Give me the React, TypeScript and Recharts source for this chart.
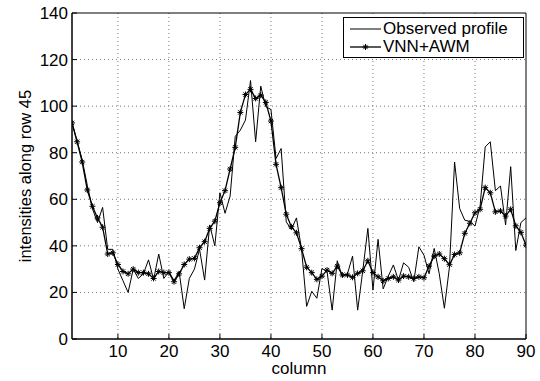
import {
  LineChart, Line, XAxis, YAxis, CartesianGrid, Legend, ReferenceArea,
} from 'recharts';

// column index 1..90
const columns = Array.from({ length: 90 }, (_, i) => i + 1);

const observed = [
  93, 85, 77, 66, 56, 50, 56.5, 38.5, 38.5, 30,
  25, 20, 30, 26, 28, 34, 25.5, 36.5, 26, 29,
  25, 29, 13, 26, 30, 38.6, 25.3, 49, 40, 62.8,
  54, 61.4, 87, 89.7, 94, 111, 84.7, 108.6, 99.7, 98.6,
  77.5, 81.8, 50.3, 47, 52, 38.6, 14, 20.5, 17.5, 30.3,
  29, 12.4, 33.6, 26.7, 28, 35.6, 12.4, 29.3, 47.5, 21,
  42.8, 21.5, 27, 31.8, 25.3, 32.7, 30.8, 24.6, 39.6, 36,
  28, 38.9, 28, 13.2, 31, 76, 56, 51, 50.5, 48.5,
  57, 82.5, 84.7, 63.7, 65.7, 49, 74, 38, 50, 52,
];

const vnnAwm = [
  92.8, 84.7, 76, 64, 57, 52, 48, 36.5, 37, 32,
  29, 28, 30, 28.5, 28.5, 28, 26, 29, 28.5, 28.5,
  24.6, 28, 32, 34.3, 34.6, 39.2, 41.8, 47.5, 50.6, 58.5,
  63.7, 73, 82.3, 97.3, 105, 107.2, 103.3, 104.7, 101.6, 93.6,
  75, 65, 53.6, 48.2, 45.6, 38.8, 30.8, 28.5, 25.6, 27,
  29.6, 28.2, 31.3, 27.5, 27.5, 26.5, 28.2, 29.3, 33.6, 28.5,
  26.7, 25, 26, 26.7, 25.3, 27, 26.7, 26, 26.7, 26.3,
  31.3, 35.6, 36.5, 34.5, 31.9, 36.3, 37, 45.4, 49.7, 54.2,
  55.7, 65, 62.8, 54.6, 55, 52.8, 55.7, 48.6, 45.8, 40.3,
];

const xTicks = [10, 20, 30, 40, 50, 60, 70, 80, 90];
const yTicks = [0, 20, 40, 60, 80, 100, 120, 140];

const data = columns.map((c, i) => ({ col: c, observed: observed[i], vnn: vnnAwm[i] }));

const FONT = 'Liberation Sans, Arial, Helvetica, sans-serif';
const FS = 17;

function Star({ cx, cy }: { cx?: number; cy?: number }) {
  if (cx == null || cy == null) return null;
  const r = 3;
  const d = r * 0.72;
  return (
    <g stroke="#000" strokeWidth={1}>
      <line x1={cx - r} y1={cy} x2={cx + r} y2={cy} />
      <line x1={cx} y1={cy - r} x2={cx} y2={cy + r} />
      <line x1={cx - d} y1={cy - d} x2={cx + d} y2={cy + d} />
      <line x1={cx - d} y1={cy + d} x2={cx + d} y2={cy - d} />
    </g>
  );
}

function LegendBox() {
  const row = { display: 'flex', alignItems: 'center', height: 18, whiteSpace: 'nowrap' } as const;
  return (
    <div style={{
      boxSizing: 'border-box', border: '1px solid #000', background: '#fff',
      width: 181, height: 41, paddingTop: 2,
      fontFamily: FONT, fontSize: FS, color: '#000', lineHeight: '18px', textAlign: 'left',
    }}>
      <div style={row}>
        <svg width={39} height={18} style={{ flex: 'none' }}>
          <line x1={6} y1={9} x2={37} y2={9} stroke="#000" strokeWidth={1} />
        </svg>
        <span>Observed profile</span>
      </div>
      <div style={row}>
        <svg width={39} height={18} style={{ flex: 'none' }}>
          <line x1={6} y1={9} x2={37} y2={9} stroke="#000" strokeWidth={1.3} />
          <Star cx={21.5} cy={9} />
        </svg>
        <span>VNN+AWM</span>
      </div>
    </div>
  );
}

const emptyTick = () => <g />;

export default function App() {
  return (
    <div style={{ position: 'absolute', left: 0, top: 0, background: '#fff' }}>
      <LineChart
        width={540}
        height={381}
        data={data}
        margin={{ top: 13, right: 14, bottom: 0, left: 0 }}
      >
        <CartesianGrid
          stroke="#777"
          strokeDasharray="1 3"
          horizontalValues={[20, 40, 60, 80, 100, 120]}
          verticalValues={[10, 20, 30, 40, 50, 60, 70, 80]}
        />
        <XAxis
          dataKey="col"
          type="number"
          domain={[1, 90]}
          ticks={xTicks}
          allowDataOverflow
          height={42}
          stroke="#000"
          tickSize={-5}
          tickMargin={11}
          tick={{ fontSize: FS, fill: '#000', fontFamily: FONT }}
          label={{ value: 'column', position: 'insideBottom', offset: 7, fontSize: FS, fill: '#000', fontFamily: FONT }}
        />
        <XAxis
          xAxisId="top"
          orientation="top"
          dataKey="col"
          type="number"
          domain={[1, 90]}
          ticks={xTicks}
          height={0}
          stroke="#000"
          tickSize={-5}
          tick={emptyTick}
        />
        <YAxis
          type="number"
          domain={[0, 140]}
          ticks={yTicks}
          width={72}
          stroke="#000"
          tickSize={-5}
          tickMargin={9}
          tick={{ fontSize: FS, fill: '#000', fontFamily: FONT }}
          label={{
            value: 'intensities along row 45', angle: -90, position: 'insideLeft',
            offset: 25, style: { textAnchor: 'middle' }, fontSize: 16.5, fill: '#000', fontFamily: FONT,
          }}
        />
        <YAxis
          yAxisId="right"
          orientation="right"
          type="number"
          domain={[0, 140]}
          ticks={yTicks}
          width={0}
          stroke="#000"
          tickSize={-5}
          tick={emptyTick}
        />
        <ReferenceArea
          x1={1}
          x2={90}
          y1={0}
          y2={140}
          fill="none"
          stroke="#000"
          strokeWidth={1}
          ifOverflow="visible"
        />
        <Legend
          layout="horizontal"
          verticalAlign="middle"
          align="center"
          content={<LegendBox />}
          wrapperStyle={{ top: 17, left: 343, width: 181, height: 41 }}
        />
        <Line
          dataKey="observed"
          stroke="#000"
          strokeWidth={1}
          dot={false}
          name="Observed profile"
          isAnimationActive={false}
        />
        <Line
          dataKey="vnn"
          stroke="#000"
          strokeWidth={1.3}
          dot={<Star />}
          name="VNN+AWM"
          isAnimationActive={false}
        />
      </LineChart>
    </div>
  );
}
